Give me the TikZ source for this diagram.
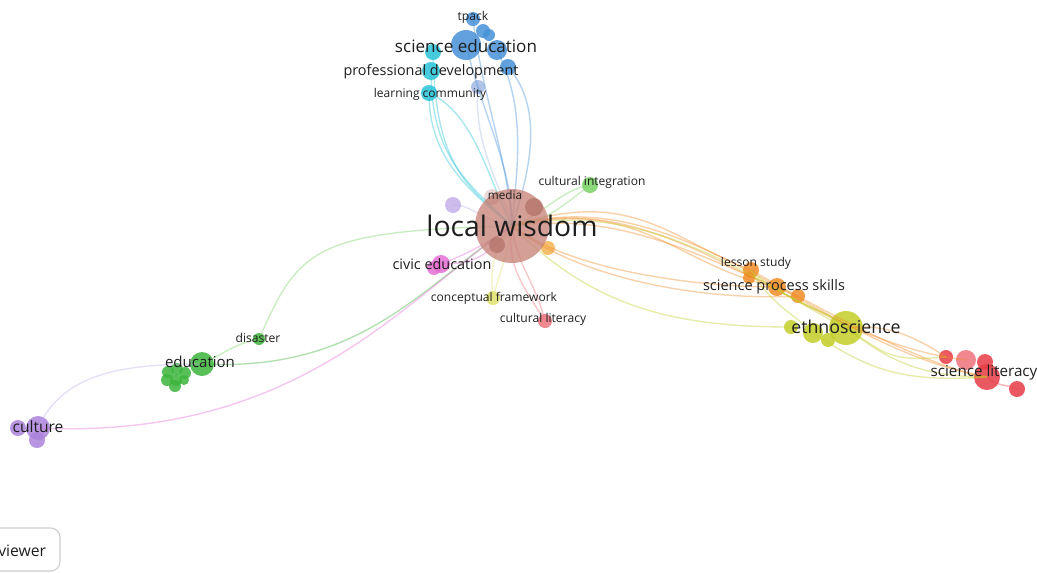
\documentclass[tikz,border=0pt]{standalone}
\usepackage{fontspec}
\setmainfont{Open Sans}
\definecolor{lwc}{RGB}{200,132,122}
\definecolor{lwd}{RGB}{172,105,95}
\definecolor{bluc}{RGB}{70,145,215}
\definecolor{cyac}{RGB}{40,195,215}
\definecolor{lbluc}{RGB}{165,185,228}
\definecolor{grnc}{RGB}{60,180,60}
\definecolor{lgrnc}{RGB}{120,210,100}
\definecolor{purc}{RGB}{170,130,220}
\definecolor{lavc}{RGB}{195,175,232}
\definecolor{magc}{RGB}{228,110,212}
\definecolor{orac}{RGB}{240,140,40}
\definecolor{loric}{RGB}{245,180,85}
\definecolor{ygc}{RGB}{195,205,40}
\definecolor{redc}{RGB}{230,60,70}
\definecolor{pinkc}{RGB}{238,115,125}
\definecolor{creamc}{RGB}{225,225,110}
\definecolor{txtc}{RGB}{30,30,30}
\definecolor{boxc}{RGB}{205,205,205}
\tikzset{
  dot/.style={circle,fill=#1,fill opacity=0.85,inner sep=0pt,draw=none},
  lnk/.style={draw=#1,draw opacity=0.4,line width=1.05pt},
  lbl/.style={text=txtc,inner sep=0pt,font=#1},
}
\newcommand\dotnode[4]{\node[dot=#3,minimum size=#4*1.5pt] (#1) at (#2) {};}
\begin{document}
\begin{tikzpicture}[x=0.75pt,y=-0.75pt]
\useasboundingbox (0,0) rectangle (1037,572);
% ---------- nodes (circles) ----------
\coordinate (lw) at (512,226);
\dotnode{tp}{473,19}{bluc}{7}
\dotnode{b2}{483,31}{bluc}{7}
\dotnode{b5}{489,35}{bluc}{6}
\dotnode{se}{466,45}{bluc}{15}
\dotnode{b3}{497,50}{bluc}{10}
\dotnode{b4}{508,67}{bluc}{8}
\dotnode{lb}{478,87}{lbluc}{7}
\dotnode{cy1}{433,52}{cyac}{8}
\dotnode{pd}{431,71}{cyac}{9}
\dotnode{lc}{429,93}{cyac}{8}
\dotnode{lav}{453,205}{lavc}{8}
\dotnode{ci}{590,185}{lgrnc}{8}
\dotnode{or}{548,248}{loric}{7}
\dotnode{civ}{441,264}{magc}{9}
\dotnode{civ2}{434,268}{magc}{7}
\dotnode{cf}{493,298}{creamc}{7}
\dotnode{cl}{545,321}{pinkc}{7}
\dotnode{ls}{751,270}{orac}{8}
\dotnode{ls2}{749,278}{orac}{6}
\dotnode{sps}{777,287}{orac}{9}
\dotnode{o3}{798,296}{orac}{7}
\dotnode{e4}{791,327}{ygc}{7}
\dotnode{e2}{813,333}{ygc}{10}
\dotnode{e3}{828,340}{ygc}{7}
\dotnode{eth}{846,328}{ygc}{17}
\dotnode{r1}{946,357}{redc}{7}
\dotnode{r2}{966,360}{pinkc}{10}
\dotnode{r3}{985,362}{redc}{8}
\dotnode{sl}{987,377}{redc}{13}
\dotnode{r5}{1017,389}{redc}{8}
\dotnode{dis}{259,339}{grnc}{6}
\dotnode{edu}{202,364}{grnc}{12}
\dotnode{g1}{168,372}{grnc}{6}
\dotnode{g2}{177,369}{grnc}{6}
\dotnode{g3}{185,373}{grnc}{6}
\dotnode{g4}{167,380}{grnc}{6}
\dotnode{g5}{176,380}{grnc}{6}
\dotnode{g6}{184,380}{grnc}{5}
\dotnode{g7}{175,386}{grnc}{6}
\dotnode{cul}{38,428}{purc}{12}
\dotnode{cu2}{18,428}{purc}{8}
\dotnode{cu3}{37,440}{purc}{8}
% ---------- links ----------
\draw[lnk=cyac] (lc.center) .. controls +(0,60) and +(-50,-40) .. (lw);
\draw[lnk=cyac] (lc.center) .. controls +(45,20) and +(-25,-50) .. (lw);
\draw[lnk=cyac] (pd.center) .. controls +(0,90) and +(-40,-40) .. (lw);
\draw[lnk=cyac] (cy1.center) .. controls +(2,115) and +(-45,-40) .. (lw);
\draw[lnk=lbluc] (lb.center) .. controls +(-5,60) and +(-10,-40) .. (lw);
\draw[lnk=bluc] (se.center) .. controls +(20,80) and +(0,-60) .. (lw);
\draw[lnk=bluc] (b3.center) .. controls +(30,60) and +(5,-60) .. (lw);
\draw[lnk=bluc] (b4.center) .. controls +(35,40) and +(20,-60) .. (lw);
\draw[lnk=bluc] (tp.center) .. controls +(10,80) and +(-5,-70) .. (lw);
% right
\draw[lnk=orac] (lw) .. controls +(120,-40) and +(-80,-30) .. (ls.center);
\draw[lnk=orac] (lw) .. controls +(130,-30) and +(-100,-20) .. (sps.center);
\draw[lnk=orac] (lw) .. controls +(110,-15) and +(-100,-40) .. (o3.center);
\draw[lnk=orac] (lw) .. controls +(60,45) and +(-80,0) .. (sps.center);
\draw[lnk=orac] (lw) .. controls +(70,55) and +(-90,5) .. (o3.center);
\draw[lnk=orac] (lw) .. controls +(170,-50) and +(-170,-30) .. (sl.center);
\draw[lnk=orac] (lw) .. controls +(160,-45) and +(-170,-20) .. (r2.center);
\draw[lnk=ygc] (lw) .. controls +(80,80) and +(-120,0) .. (e4.center);
\draw[lnk=ygc] (lw) .. controls +(140,-30) and +(-80,-40) .. (eth.center);
\draw[lnk=ygc] (ls.center) .. controls +(30,30) and +(-30,-25) .. (eth.center);
\draw[lnk=ygc] (ls.center) .. controls +(20,35) and +(-20,-20) .. (e2.center);
\draw[lnk=ygc] (sps.center) .. controls +(20,20) and +(-20,-20) .. (eth.center);
\draw[lnk=orac] (ls.center) .. controls +(70,40) and +(-60,-10) .. (sl.center);
\draw[lnk=orac] (eth.center) .. controls +(40,-5) and +(-30,-20) .. (r1.center);
\draw[lnk=ygc] (eth.center) .. controls +(40,25) and +(-60,5) .. (r1.center);
\draw[lnk=ygc] (eth.center) .. controls +(40,30) and +(-70,0) .. (sl.center);
\draw[lnk=ygc] (e2.center) .. controls +(60,40) and +(-80,5) .. (sl.center);
\draw[lnk=redc] (sl.center) .. controls +(10,10) and +(-10,-5) .. (r5.center);
% left
\draw[lnk=lgrnc] (lw) .. controls +(-200,5) and +(40,-90) .. (dis.center);
\draw[lnk=lgrnc] (dis.center) .. controls +(-25,5) and +(25,-12) .. (edu.center);
\draw[lnk=grnc] (edu.center) .. controls +(160,8) and +(-90,60) .. (lw);
\draw[lnk=magc] (cul.center) .. controls +(260,12) and +(-110,75) .. (lw);
\draw[lnk=lavc] (cul.center) .. controls +(25,-55) and +(-80,0) .. (edu.center);
\draw[lnk=magc] (civ.center) .. controls +(30,-12) and +(-30,20) .. (lw);
\draw[lnk=magc] (civ.center) .. controls +(35,0) and +(-25,30) .. (lw);
\draw[lnk=lavc] (lav.center) .. controls +(20,0) and +(-30,-5) .. (lw);
\draw[lnk=creamc] (cf.center) .. controls +(-3,-30) and +(-20,30) .. (lw);
\draw[lnk=creamc] (cf.center) .. controls +(8,-30) and +(-5,30) .. (lw);
\draw[lnk=pinkc] (cl.center) .. controls +(-10,-40) and +(5,40) .. (lw);
\draw[lnk=pinkc] (cl.center) .. controls +(-25,-40) and +(-5,40) .. (lw);
\draw[lnk=lgrnc] (ci.center) .. controls +(-30,5) and +(30,-10) .. (lw);
\draw[lnk=lgrnc] (ci.center) .. controls +(-20,15) and +(30,0) .. (lw);
\draw[lnk=loric] (or.center) -- (lw);
% main node, semi-transparent over links
\node[circle,fill=lwc,fill opacity=0.78,inner sep=0pt,minimum size=55.5pt] (lwn) at (lw) {};
\node[dot=lwd,fill opacity=0.6,minimum size=13.5pt] (md1) at (534,207) {};
\node[dot=lwd,fill opacity=0.6,minimum size=12pt] (md2) at (497,245) {};
\node[dot=lwd,fill opacity=0.25,minimum size=12pt] (md3) at (492,197) {};
% ---------- labels ----------
\node[lbl=\fontsize{9.1}{11}\selectfont] (t1) at (473,17) {tpack};
\node[lbl=\fontsize{12.8}{15}\selectfont] (t2) at (466,46) {science education};
\node[lbl=\fontsize{10.8}{13}\selectfont] (t3) at (431,72) {professional development};
\node[lbl=\fontsize{9}{11}\selectfont] (t4) at (430,94) {learning community};
\node[lbl=\fontsize{8.8}{11}\selectfont] (t5) at (505,195) {media};
\node[lbl=\fontsize{9.05}{11}\selectfont] (t6) at (592,182) {cultural integration};
\node[lbl=\fontsize{21.2}{25}\selectfont] (t7) at (512,226) {local wisdom};
\node[lbl=\fontsize{10.8}{13}\selectfont] (t8) at (442,264) {civic education};
\node[lbl=\fontsize{9.05}{11}\selectfont] (t9) at (756,263) {lesson study};
\node[lbl=\fontsize{10.9}{13}\selectfont] (t10) at (774,287) {science process skills};
\node[lbl=\fontsize{9.05}{11}\selectfont] (t11) at (494,298) {conceptual framework};
\node[lbl=\fontsize{9.1}{11}\selectfont] (t12) at (543,319) {cultural literacy};
\node[lbl=\fontsize{13.3}{16}\selectfont] (t13) at (846,327) {ethnoscience};
\node[lbl=\fontsize{11.4}{14}\selectfont] (t14) at (984,373) {science literacy};
\node[lbl=\fontsize{9.1}{11}\selectfont] (t15) at (258,338) {disaster};
\node[lbl=\fontsize{11.3}{14}\selectfont] (t16) at (200,362) {education};
\node[lbl=\fontsize{11.7}{14}\selectfont] (t17) at (38,427) {culture};
% ---------- viewer box ----------
\draw[boxc,line width=0.8pt,rounded corners=7pt] (-30,528) rectangle (60,571);
\node[lbl=\fontsize{11.8}{14}\selectfont,anchor=west] (t18) at (-2,551) {viewer};
\end{tikzpicture}
\end{document}
